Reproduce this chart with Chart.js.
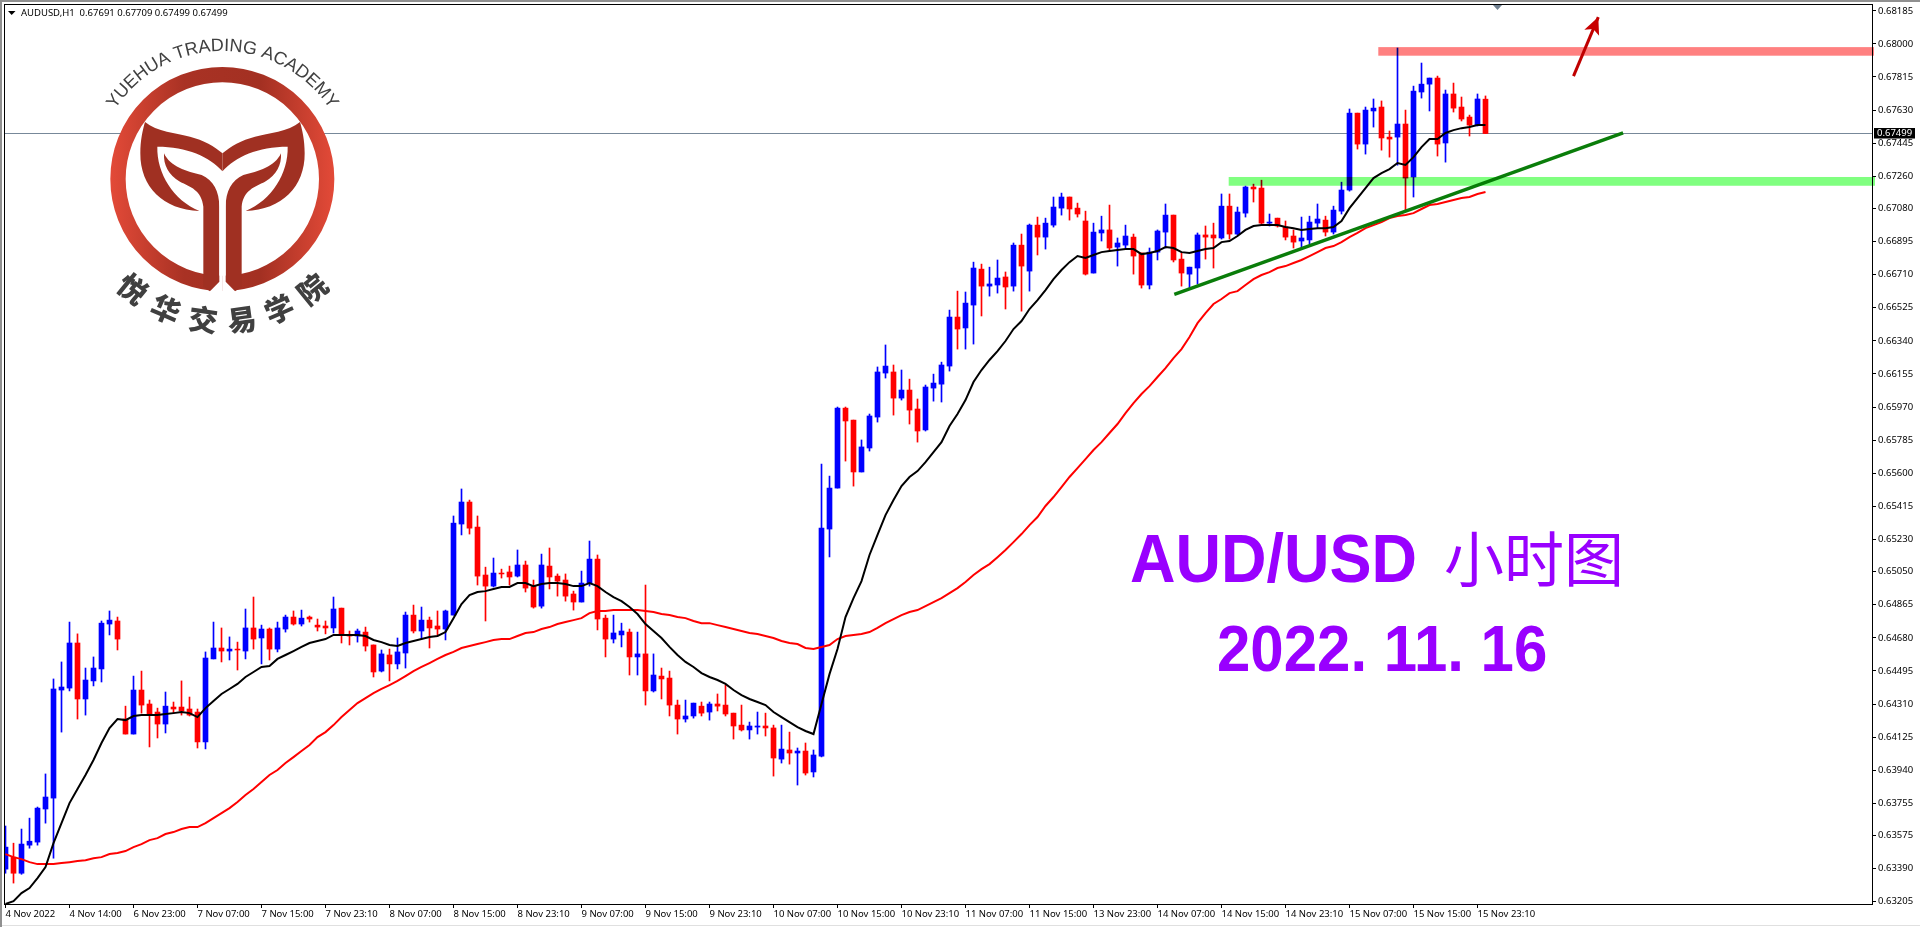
<!DOCTYPE html>
<html>
<head>
<meta charset="utf-8">
<title>AUDUSD H1</title>
<script src="https://cdn.jsdelivr.net/npm/chart.js@4"></script>
<style>
  html, body { margin: 0; padding: 0; background: #fff; }
  canvas { display: block; }
</style>
</head>
<body>
<canvas id="chart" width="1920" height="927"></canvas>
<script>
const timeLabels = ["4 Nov 2022","4 Nov 14:00","6 Nov 23:00","7 Nov 07:00","7 Nov 15:00","7 Nov 23:10","8 Nov 07:00","8 Nov 15:00","8 Nov 23:10","9 Nov 07:00","9 Nov 15:00","9 Nov 23:10","10 Nov 07:00","10 Nov 15:00","10 Nov 23:10","11 Nov 07:00","11 Nov 15:00","13 Nov 23:00","14 Nov 07:00","14 Nov 15:00","14 Nov 23:10","15 Nov 07:00","15 Nov 15:00","15 Nov 23:10"];
const priceTicks = [0.68185,0.68000,0.67815,0.67630,0.67445,0.67260,0.67080,0.66895,0.66710,0.66525,0.66340,0.66155,0.65970,0.65785,0.65600,0.65415,0.65230,0.65050,0.64865,0.64680,0.64495,0.64310,0.64125,0.63940,0.63755,0.63575,0.63390,0.63205];

const opens = [0.63387,0.63454,0.63364,0.63521,0.63538,0.63723,0.63784,0.64388,0.64399,0.64651,
0.64338,0.64439,0.64506,0.64757,0.64774,0.64226,0.64142,0.64388,0.64310,0.64265,
0.64198,0.64293,0.64293,0.64282,0.64265,0.64098,0.64562,0.64623,0.64606,0.64617,
0.64606,0.64735,0.64679,0.64729,0.64617,0.64729,0.64796,0.64757,0.64796,0.64751,
0.64746,0.64735,0.64846,0.64696,0.64690,0.64712,0.64640,0.64494,0.64584,0.64534,
0.64595,0.64807,0.64718,0.64779,0.64746,0.64729,0.64807,0.65316,0.65439,0.65299,
0.65031,0.64969,0.65042,0.65048,0.65025,0.65087,0.64969,0.64857,0.65081,0.65025,
0.65003,0.64925,0.64880,0.64986,0.65120,0.64790,0.64673,0.64696,0.64712,0.64573,
0.64590,0.64383,0.64466,0.64455,0.64304,0.64226,0.64243,0.64298,0.64265,0.64310,
0.64304,0.64259,0.64192,0.64165,0.64181,0.64187,0.64176,0.64002,0.64053,0.64036,
0.64047,0.63930,0.64019,0.65288,0.65517,0.65964,0.65897,0.65607,0.65741,0.65914,
0.66160,0.66166,0.66020,0.66065,0.65959,0.65842,0.66076,0.66098,0.66199,0.66473,
0.66412,0.66540,0.66741,0.66646,0.66652,0.66697,0.66646,0.66875,0.66730,0.66987,
0.66920,0.66987,0.67082,0.67144,0.67082,0.67010,0.66719,0.66943,0.66960,0.66864,
0.66875,0.66920,0.66831,0.66652,0.66836,0.66948,0.67043,0.66797,0.66713,0.66747,
0.66932,0.66932,0.66915,0.67093,0.66937,0.67054,0.67200,0.67194,0.66998,0.67026,
0.66976,0.66926,0.66898,0.66904,0.66998,0.67015,0.66948,0.67065,0.67183,0.67613,
0.67440,0.67625,0.67647,0.67479,0.67479,0.67552,0.67256,0.67731,0.67775,0.67809,
0.67446,0.67720,0.67647,0.67591,0.67546,0.67691];

const highs = [0.63628,0.63532,0.63611,0.63672,0.63734,0.63919,0.64450,0.64545,0.64768,0.64702,
0.64511,0.64573,0.64774,0.64830,0.64796,0.64298,0.64466,0.64494,0.64332,0.64287,
0.64377,0.64321,0.64439,0.64349,0.64282,0.64601,0.64768,0.64735,0.64685,0.64656,
0.64841,0.64908,0.64751,0.64735,0.64768,0.64807,0.64830,0.64835,0.64802,0.64785,
0.64774,0.64908,0.64846,0.64718,0.64729,0.64740,0.64640,0.64612,0.64617,0.64679,
0.64824,0.64863,0.64852,0.64796,0.64830,0.64835,0.65361,0.65512,0.65450,0.65361,
0.65075,0.65126,0.65064,0.65081,0.65171,0.65109,0.65003,0.65148,0.65182,0.65037,
0.65037,0.64941,0.65053,0.65221,0.65143,0.64807,0.64807,0.64762,0.64729,0.64712,
0.64975,0.64590,0.64511,0.64494,0.64332,0.64332,0.64315,0.64321,0.64321,0.64366,
0.64416,0.64259,0.64304,0.64209,0.64265,0.64259,0.64192,0.64192,0.64153,0.64064,
0.64092,0.64053,0.65651,0.65584,0.65970,0.65970,0.65897,0.65786,0.65931,0.66194,
0.66317,0.66205,0.66177,0.66126,0.66015,0.66093,0.66154,0.66221,0.66512,0.66618,
0.66613,0.66780,0.66769,0.66752,0.66792,0.66725,0.66887,0.66937,0.66993,0.67032,
0.67026,0.67144,0.67166,0.67144,0.67110,0.67065,0.66998,0.67037,0.67099,0.66915,
0.66987,0.66937,0.66831,0.66859,0.66960,0.67105,0.67043,0.66836,0.66752,0.66943,
0.66982,0.66998,0.67161,0.67161,0.67088,0.67205,0.67216,0.67238,0.67049,0.67026,
0.67010,0.66960,0.67032,0.67037,0.67105,0.67037,0.67093,0.67227,0.67636,0.67613,
0.67647,0.67692,0.67681,0.67513,0.67977,0.67630,0.67764,0.67893,0.67809,0.67820,
0.67742,0.67781,0.67703,0.67602,0.67720,0.67709];

const lows = [0.63364,0.63309,0.63358,0.63504,0.63521,0.63644,0.63448,0.64153,0.64383,0.64226,
0.64248,0.64411,0.64433,0.64696,0.64612,0.64142,0.64142,0.64259,0.64070,0.64120,
0.64148,0.64259,0.64248,0.64243,0.64064,0.64059,0.64562,0.64545,0.64556,0.64500,
0.64562,0.64617,0.64534,0.64556,0.64601,0.64712,0.64751,0.64746,0.64768,0.64718,
0.64702,0.64707,0.64651,0.64640,0.64656,0.64606,0.64461,0.64489,0.64439,0.64506,
0.64511,0.64707,0.64673,0.64623,0.64690,0.64668,0.64807,0.65255,0.65260,0.64975,
0.64774,0.64964,0.65014,0.64975,0.65020,0.64936,0.64846,0.64846,0.64953,0.64913,
0.64885,0.64835,0.64880,0.64969,0.64724,0.64573,0.64651,0.64629,0.64472,0.64472,
0.64304,0.64377,0.64338,0.64243,0.64142,0.64209,0.64231,0.64243,0.64220,0.64271,
0.64243,0.64114,0.64159,0.64114,0.64142,0.64131,0.63907,0.63980,0.63974,0.63857,
0.63913,0.63902,0.64014,0.65132,0.65517,0.65668,0.65528,0.65607,0.65724,0.65886,
0.66132,0.65925,0.66009,0.65875,0.65774,0.65836,0.66003,0.65998,0.66171,0.66294,
0.66294,0.66322,0.66479,0.66590,0.66607,0.66518,0.66618,0.66506,0.66618,0.66820,
0.66853,0.66976,0.67043,0.67015,0.67032,0.66708,0.66719,0.66898,0.66848,0.66758,
0.66859,0.66713,0.66635,0.66630,0.66792,0.66859,0.66781,0.66646,0.66635,0.66658,
0.66797,0.66747,0.66909,0.66909,0.66932,0.67032,0.67116,0.66993,0.66982,0.66976,
0.66904,0.66859,0.66864,0.66881,0.66971,0.66926,0.66937,0.67049,0.67177,0.67412,
0.67384,0.67535,0.67406,0.67367,0.67322,0.67065,0.67144,0.67697,0.67625,0.67373,
0.67339,0.67619,0.67569,0.67485,0.67541,0.67499];

const closes = [0.63510,0.63364,0.63527,0.63543,0.63728,0.63790,0.64394,0.64405,0.64651,0.64338,
0.64444,0.64511,0.64762,0.64779,0.64673,0.64142,0.64388,0.64304,0.64254,0.64198,
0.64298,0.64282,0.64271,0.64248,0.64098,0.64567,0.64623,0.64606,0.64617,0.64612,
0.64735,0.64673,0.64729,0.64617,0.64735,0.64796,0.64757,0.64790,0.64785,0.64740,
0.64735,0.64841,0.64696,0.64690,0.64718,0.64634,0.64489,0.64590,0.64534,0.64601,
0.64807,0.64718,0.64779,0.64735,0.64729,0.64830,0.65321,0.65439,0.65293,0.65025,
0.64969,0.65042,0.65037,0.65020,0.65087,0.64958,0.64852,0.65087,0.65020,0.64997,
0.64913,0.64880,0.64986,0.65120,0.64785,0.64673,0.64707,0.64718,0.64573,0.64590,
0.64383,0.64472,0.64450,0.64304,0.64226,0.64243,0.64315,0.64259,0.64310,0.64298,
0.64254,0.64187,0.64165,0.64187,0.64187,0.64176,0.64008,0.64058,0.64036,0.64047,
0.63924,0.64025,0.65293,0.65517,0.65964,0.65892,0.65607,0.65747,0.65920,0.66166,
0.66199,0.66020,0.66065,0.65953,0.65836,0.66082,0.66104,0.66205,0.66473,0.66406,
0.66551,0.66747,0.66646,0.66658,0.66691,0.66641,0.66875,0.66758,0.66987,0.66920,
0.66998,0.67088,0.67144,0.67077,0.67049,0.66713,0.66948,0.66960,0.66859,0.66887,
0.66926,0.66814,0.66652,0.66836,0.66954,0.67043,0.66792,0.66719,0.66752,0.66932,
0.66920,0.66915,0.67093,0.66937,0.67060,0.67200,0.67189,0.66998,0.67004,0.66982,
0.66920,0.66892,0.66915,0.67004,0.67021,0.66948,0.67071,0.67183,0.67613,0.67440,
0.67630,0.67641,0.67474,0.67468,0.67552,0.67250,0.67736,0.67775,0.67809,0.67440,
0.67720,0.67641,0.67580,0.67546,0.67692,0.67499];

// fast moving average (black)
const maFast = [0.63192,0.63208,0.63253,0.63281,0.63337,0.63398,0.63532,0.63644,0.63756,0.63835,
0.63913,0.63997,0.64092,0.64176,0.64226,0.64220,0.64243,0.64248,0.64248,0.64248,
0.64254,0.64259,0.64265,0.64259,0.64237,0.64287,0.64327,0.64366,0.64394,0.64422,
0.64461,0.64489,0.64517,0.64522,0.64562,0.64584,0.64606,0.64629,0.64651,0.64662,
0.64673,0.64696,0.64696,0.64696,0.64696,0.64690,0.64668,0.64656,0.64640,0.64634,
0.64651,0.64662,0.64673,0.64685,0.64690,0.64712,0.64790,0.64869,0.64919,0.64936,
0.64941,0.64953,0.64964,0.64964,0.64986,0.64986,0.64969,0.64981,0.64986,0.64986,
0.64981,0.64969,0.64969,0.64986,0.64969,0.64936,0.64908,0.64885,0.64852,0.64813,
0.64757,0.64718,0.64679,0.64629,0.64584,0.64545,0.64517,0.64483,0.64461,0.64444,
0.64422,0.64388,0.64360,0.64338,0.64321,0.64304,0.64265,0.64237,0.64209,0.64181,
0.64159,0.64142,0.64310,0.64477,0.64617,0.64796,0.64902,0.64997,0.65143,0.65255,
0.65366,0.65450,0.65528,0.65579,0.65612,0.65662,0.65718,0.65774,0.65864,0.65931,
0.66009,0.66110,0.66177,0.66233,0.66283,0.66339,0.66406,0.66451,0.66518,0.66568,
0.66624,0.66685,0.66736,0.66780,0.66814,0.66803,0.66820,0.66836,0.66842,0.66848,
0.66853,0.66853,0.66825,0.66831,0.66842,0.66864,0.66859,0.66836,0.66831,0.66842,
0.66853,0.66859,0.66892,0.66898,0.66926,0.66960,0.66982,0.66987,0.66987,0.66987,
0.66976,0.66970,0.66960,0.66965,0.66970,0.66970,0.66976,0.67010,0.67082,0.67138,
0.67194,0.67250,0.67278,0.67300,0.67334,0.67323,0.67367,0.67423,0.67468,0.67468,
0.67502,0.67518,0.67529,0.67535,0.67546,0.67546];

// slow moving average (red)
const maSlow = [0.63471,0.63454,0.63443,0.63426,0.63415,0.63415,0.63415,0.63421,0.63426,0.63432,
0.63437,0.63448,0.63454,0.63471,0.63477,0.63488,0.63510,0.63527,0.63549,0.63560,
0.63583,0.63594,0.63611,0.63622,0.63622,0.63644,0.63672,0.63700,0.63728,0.63762,
0.63801,0.63835,0.63874,0.63913,0.63941,0.63980,0.64013,0.64047,0.64081,0.64125,
0.64153,0.64192,0.64237,0.64276,0.64315,0.64343,0.64371,0.64394,0.64416,0.64439,
0.64466,0.64494,0.64517,0.64539,0.64562,0.64584,0.64601,0.64623,0.64634,0.64645,
0.64656,0.64668,0.64673,0.64673,0.64690,0.64707,0.64712,0.64729,0.64740,0.64757,
0.64768,0.64779,0.64790,0.64818,0.64830,0.64830,0.64835,0.64835,0.64835,0.64835,
0.64830,0.64824,0.64813,0.64807,0.64796,0.64790,0.64774,0.64762,0.64762,0.64751,
0.64740,0.64729,0.64718,0.64707,0.64701,0.64690,0.64679,0.64662,0.64651,0.64645,
0.64623,0.64617,0.64629,0.64640,0.64673,0.64690,0.64696,0.64701,0.64712,0.64735,
0.64762,0.64785,0.64807,0.64824,0.64835,0.64857,0.64880,0.64902,0.64930,0.64958,
0.64992,0.65031,0.65064,0.65092,0.65131,0.65171,0.65215,0.65260,0.65310,0.65355,
0.65417,0.65467,0.65523,0.65579,0.65629,0.65679,0.65730,0.65774,0.65825,0.65875,
0.65936,0.65992,0.66043,0.66087,0.66138,0.66188,0.66244,0.66294,0.66361,0.66439,
0.66495,0.66546,0.66574,0.66607,0.66618,0.66652,0.66685,0.66708,0.66724,0.66747,
0.66758,0.66775,0.66792,0.66814,0.66836,0.66859,0.66870,0.66892,0.66920,0.66943,
0.66970,0.66987,0.67004,0.67026,0.67038,0.67043,0.67054,0.67077,0.67099,0.67105,
0.67116,0.67127,0.67138,0.67144,0.67161,0.67172];

const lastPrice = 0.67499;
const ohlcText = "AUDUSD,H1  0.67691 0.67709 0.67499 0.67499";
const resistanceBand = { from: 171.6, low: 0.67934, high: 0.67982 };
const supportBand = { from: 152.9, low: 0.67207, high: 0.67256 };
const trendLine = [{ x: 146.1, y: 0.66600 }, { x: 202.2, y: 0.67503 }];
const arrowLine = [{ x: 196.0, y: 0.67820 }, { x: 199.1, y: 0.68150 }];

const UP = "#0000ff", DOWN = "#ff0000";
const candleColors = closes.map((c, i) => c >= opens[i] ? UP : DOWN);
const SMALL_FONT = '9.5px "Noto Sans"';

function drawLogo(ctx) {
  const cx = 222.5, cy = 179;
  ctx.save();
  ctx.scale(1 / 3, 1 / 3);
  // ring, coordinates here are 3x so the curves are easier to place
  const grad = ctx.createLinearGradient(330, 0, 1003, 0);
  grad.addColorStop(0, "#e34a38");
  grad.addColorStop(0.33, "#a93224");
  grad.addColorStop(0.67, "#a33022");
  grad.addColorStop(1, "#e34a38");
  ctx.fillStyle = "#fff";
  ctx.beginPath(); ctx.arc(667, 537, 300, 0, Math.PI * 2); ctx.fill();
  ctx.strokeStyle = grad;
  ctx.lineWidth = 46;
  ctx.beginPath(); ctx.arc(667, 537, 313, 0, Math.PI * 2); ctx.stroke();

  const leaves = () => {
    ctx.fillStyle = "#a03022";
    ctx.beginPath();
    ctx.moveTo(435, 366);
    ctx.bezierCurveTo(470, 395, 530, 400, 570, 410);
    ctx.bezierCurveTo(610, 420, 645, 440, 667.5, 460);
    ctx.lineTo(667.5, 514);
    ctx.bezierCurveTo(630, 470, 560, 440, 472, 440);
    ctx.bezierCurveTo(470, 520, 520, 600, 598, 633);
    ctx.bezierCurveTo(490, 630, 420, 560, 421, 460);
    ctx.bezierCurveTo(421, 420, 428, 390, 435, 366);
    ctx.closePath();
    ctx.fill();
    ctx.beginPath();
    ctx.moveTo(492, 460);
    ctx.bezierCurveTo(510, 500, 560, 515, 605, 525);
    ctx.bezierCurveTo(640, 540, 658, 575, 658, 620);
    ctx.lineTo(658, 845);
    ctx.lineTo(630, 874);
    ctx.lineTo(610, 860);
    ctx.lineTo(610, 620);
    ctx.bezierCurveTo(605, 570, 570, 560, 540, 545);
    ctx.bezierCurveTo(505, 525, 490, 495, 492, 460);
    ctx.closePath();
    ctx.fill();
    // chamfer and gap at the foot of the stem
    ctx.fillStyle = "#fff";
    ctx.beginPath();
    ctx.moveTo(658, 600);
    ctx.lineTo(668, 600);
    ctx.lineTo(668, 885);
    ctx.lineTo(625, 885);
    ctx.lineTo(630, 874);
    ctx.lineTo(658, 845);
    ctx.closePath();
    ctx.fill();
  };
  leaves();
  ctx.save();
  ctx.translate(1335, 0);
  ctx.scale(-1, 1);
  leaves();
  ctx.restore();
  ctx.restore();

  // lettering round the ring
  ctx.save();
  ctx.fillStyle = "#404040";
  ctx.textAlign = "center";
  ctx.textBaseline = "alphabetic";
  ctx.font = '18px "Liberation Sans"';
  const topText = "YUEHUA TRADING ACADEMY";
  const total = ctx.measureText(topText).width;
  const r = 128;
  let run = 0;
  for (const ch of topText) {
    const w = ctx.measureText(ch).width;
    const a = (run + w / 2 - total / 2) / r;
    ctx.save();
    ctx.translate(cx + r * Math.sin(a), cy - r * Math.cos(a));
    ctx.rotate(a);
    ctx.fillText(ch, 0, 0);
    ctx.restore();
    run += w;
  }
  ctx.font = '900 29px "Noto Sans CJK SC"';
  ctx.textBaseline = "middle";
  const bottomText = "悦华交易学院";
  for (let k = 0; k < bottomText.length; k++) {
    const a = (2.5 - k) * 15.7 * Math.PI / 180;
    ctx.save();
    ctx.translate(cx - 142 * Math.sin(a), cy + 142 * Math.cos(a));
    ctx.rotate(a);
    ctx.fillText(bottomText[k], 0, 0);
    ctx.restore();
  }
  ctx.restore();
}

function stretchedText(ctx, str, x, y) {
  ctx.save();
  ctx.translate(x, y);
  ctx.scale(1, 1.09);
  ctx.fillText(str, 0, 0);
  ctx.restore();
}

const overlay = {
  id: "overlay",
  beforeDraw(chart) {
    const ctx = chart.ctx;
    ctx.save();
    ctx.fillStyle = "#fff";
    ctx.fillRect(0, 0, 1920, 927);
    ctx.fillStyle = "#909090";
    ctx.fillRect(0, 0, 1920, 2);
    ctx.fillRect(0, 0, 2, 927);
    ctx.fillStyle = "#e0e0e0";
    ctx.fillRect(2, 925, 1918, 1);
    ctx.restore();
  },
  beforeDatasetsDraw(chart) {
    const { ctx, chartArea: a, scales: { y } } = chart;
    const py = Math.floor(y.getPixelForValue(lastPrice)) + 0.5;
    ctx.save();
    ctx.strokeStyle = "#778899";
    ctx.lineWidth = 1;
    ctx.beginPath();
    ctx.moveTo(a.left, py);
    ctx.lineTo(a.right, py);
    ctx.stroke();
    ctx.restore();
    drawLogo(ctx);
  },
  afterDatasetsDraw(chart) {
    const { ctx, chartArea: a, scales: { x, y } } = chart;
    ctx.save();
    // bands tint whatever is under them
    ctx.globalCompositeOperation = "multiply";
    ctx.fillStyle = "#ff8080";
    ctx.fillRect(x.getPixelForValue(resistanceBand.from), y.getPixelForValue(resistanceBand.high), a.right + 2 - x.getPixelForValue(resistanceBand.from), y.getPixelForValue(resistanceBand.low) - y.getPixelForValue(resistanceBand.high));
    ctx.fillStyle = "#80ff80";
    ctx.fillRect(x.getPixelForValue(supportBand.from), y.getPixelForValue(supportBand.high), a.right + 3 - x.getPixelForValue(supportBand.from), y.getPixelForValue(supportBand.low) - y.getPixelForValue(supportBand.high));
    ctx.restore();

    ctx.save();
    // arrow head
    const tx = x.getPixelForValue(arrowLine[1].x), ty = y.getPixelForValue(arrowLine[1].y);
    const ang = Math.atan2(ty - y.getPixelForValue(arrowLine[0].y), tx - x.getPixelForValue(arrowLine[0].x));
    ctx.translate(tx, ty);
    ctx.rotate(ang);
    ctx.fillStyle = "#c80000";
    ctx.beginPath();
    ctx.moveTo(0, 0);
    ctx.lineTo(-17, -8);
    ctx.lineTo(-13, 0);
    ctx.lineTo(-17, 8);
    ctx.closePath();
    ctx.fill();
    ctx.restore();

    ctx.save();
    // frame
    ctx.strokeStyle = "#000";
    ctx.lineWidth = 1;
    ctx.strokeRect(a.left + 0.5, a.top + 0.5, a.right - a.left, a.bottom - a.top);

    // bar-shift marker on the top edge
    ctx.fillStyle = "#708090";
    ctx.beginPath();
    ctx.moveTo(1493, 5);
    ctx.lineTo(1502, 5);
    ctx.lineTo(1497.5, 10);
    ctx.closePath();
    ctx.fill();

    // header
    ctx.fillStyle = "#000";
    ctx.beginPath();
    ctx.moveTo(8, 11);
    ctx.lineTo(15.5, 11);
    ctx.lineTo(11.7, 15);
    ctx.closePath();
    ctx.fill();
    ctx.font = SMALL_FONT;
    ctx.textAlign = "left";
    ctx.textBaseline = "middle";
    ctx.fillText(ohlcText, 21, 13);

    // last price box
    const py = y.getPixelForValue(lastPrice);
    ctx.fillStyle = "#000";
    ctx.fillRect(1874, py - 5.5, 41, 10.5);
    ctx.fillStyle = "#fff";
    ctx.fillText(lastPrice.toFixed(5), 1877, py);

    // big captions
    ctx.fillStyle = "#9900ff";
    ctx.textBaseline = "alphabetic";
    ctx.font = 'bold 63px "Liberation Sans"';
    stretchedText(ctx, "AUD/USD", 1130, 582);
    ctx.font = '60px "Noto Sans CJK SC"';
    ctx.fillText("小时图", 1444, 582);
    ctx.font = 'bold 60px "Liberation Sans"';
    stretchedText(ctx, "2022. 11. 16", 1217, 671);
    ctx.restore();
  }
};

const xs = closes.map((c, i) => i);

new Chart(document.getElementById("chart").getContext("2d"), {
  type: "bar",
  plugins: [overlay],
  data: {
    datasets: [
      {
        label: "EMA fast",
        type: "line",
        data: xs.map(i => ({ x: i, y: maFast[i] })),
        borderColor: "#000",
        borderWidth: 2,
        pointRadius: 0,
        tension: 0,
        order: 2
      },
      {
        label: "EMA slow",
        type: "line",
        data: xs.map(i => ({ x: i, y: maSlow[i] })),
        borderColor: "#ff0000",
        borderWidth: 2,
        pointRadius: 0,
        tension: 0,
        order: 2
      },
      {
        label: "Trend",
        type: "line",
        data: trendLine,
        borderColor: "#0a7d0a",
        borderWidth: 3.5,
        pointRadius: 0,
        tension: 0,
        order: 1
      },
      {
        label: "Arrow",
        type: "line",
        data: arrowLine,
        borderColor: "#c00000",
        borderWidth: 3,
        pointRadius: 0,
        tension: 0,
        clip: false,
        order: 1
      },
      {
        label: "Body",
        data: xs.map(i => ({ x: i, y: [opens[i], closes[i]] })),
        backgroundColor: candleColors,
        barThickness: 5,
        grouped: false,
        borderWidth: 0,
        order: 3
      },
      {
        label: "Wick",
        data: xs.map(i => ({ x: i, y: [lows[i], highs[i]] })),
        backgroundColor: candleColors,
        barThickness: 1,
        grouped: false,
        borderWidth: 0,
        order: 4
      }
    ]
  },
  options: {
    responsive: false,
    animation: false,
    layout: { padding: { left: 4, top: 4, right: 0, bottom: 0 }, autoPadding: false },
    plugins: { legend: { display: false }, tooltip: { enabled: false } },
    scales: {
      x: {
        type: "linear",
        offset: false,
        min: -0.1875,
        max: 233.3125,
        afterFit(s) { s.height = 23; s.paddingLeft = 0; s.paddingRight = 0; },
        afterBuildTicks(s) { s.ticks = timeLabels.map((t, i) => ({ value: i * 8 })); },
        border: { display: false },
        grid: { offset: false, drawOnChartArea: false, drawTicks: true, tickLength: 4, tickColor: "#000" },
        ticks: {
          autoSkip: false,
          maxRotation: 0,
          align: "start",
          padding: 1,
          color: "#000",
          font: { family: "Noto Sans", size: 9.5 },
          callback: v => timeLabels[v / 8]
        }
      },
      y: {
        position: "right",
        min: 0.63192,
        max: 0.68223,
        afterFit(s) { s.width = 48; s.paddingTop = 0; s.paddingBottom = 0; },
        afterBuildTicks(s) { s.ticks = priceTicks.map(v => ({ value: v })); },
        border: { display: false },
        grid: { drawOnChartArea: false, drawTicks: true, tickLength: 4, tickColor: "#000" },
        ticks: {
          autoSkip: false,
          padding: 2,
          color: "#000",
          font: { family: "Noto Sans", size: 9.5 },
          callback: v => v.toFixed(5)
        }
      }
    }
  }
});
</script>
</body>
</html>
